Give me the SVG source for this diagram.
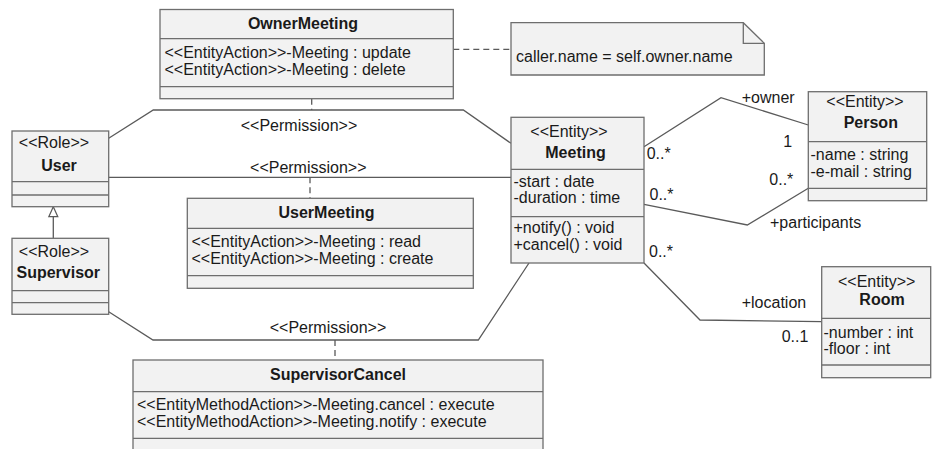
<svg xmlns="http://www.w3.org/2000/svg" width="933" height="449" viewBox="0 0 933 449">
<style>
.bg{fill:#ffffff}
.box{fill:#f2f2f2;stroke:#6e6e6e;stroke-width:1.3}
.div{stroke:#6e6e6e;stroke-width:1.3}
.t{font-family:"Liberation Sans",Arial,sans-serif;font-size:16px;fill:#1a1a1a}
.b{font-weight:bold}
.c{text-anchor:middle}
.ln{fill:none;stroke:#5a5a5a;stroke-width:1.3}
.dash{stroke-dasharray:6,4}
</style>
<defs>
<marker id="gen" viewBox="0 0 12 12" refX="11" refY="6" markerWidth="12" markerHeight="12" markerUnits="userSpaceOnUse" orient="auto">
<path d="M1,1.5 L11,6 L1,10.5 Z" fill="#ffffff" stroke="#5a5a5a" stroke-width="1.2"/>
</marker>
</defs>
<rect class="bg" x="0" y="0" width="933" height="449"/>

<g id="connectors">
<path class="ln" d="M108.7,138.3 L153.3,110 H463.3 L511,143.3"/>
<path class="ln" d="M108.7,177.3 H511"/>
<path class="ln" d="M108.7,311.7 L153,340 H478.3 L529,263"/>
<path class="ln" d="M644,146.7 L721,97.7 L808.3,125"/>
<path class="ln" d="M644,204.3 L747.3,225 L808.3,188.3"/>
<path class="ln" d="M644,263 L700,320 L821.7,321.7"/>
<path class="ln dash" d="M311.7,98.7 V110"/>
<path class="ln dash" d="M310,177.3 V198.3"/>
<path class="ln dash" d="M335,340 V360"/>
<path class="ln dash" d="M453.3,49.3 H511"/>
<path class="ln" d="M53.3,238.3 V206.7" marker-end="url(#gen)"/>
<text class="t c" x="299" y="130.7">&lt;&lt;Permission&gt;&gt;</text>
<text class="t c" x="308.3" y="172.7">&lt;&lt;Permission&gt;&gt;</text>
<text class="t c" x="328" y="333">&lt;&lt;Permission&gt;&gt;</text>
<text class="t" x="741.7" y="103.3">+owner</text>
<text class="t" x="783.3" y="146.7">1</text>
<text class="t" x="646.7" y="159">0..*</text>
<text class="t" x="649.5" y="200">0..*</text>
<text class="t" x="769.3" y="185">0..*</text>
<text class="t" x="770" y="228">+participants</text>
<text class="t" x="649" y="257">0..*</text>
<text class="t" x="741.7" y="308.3">+location</text>
<text class="t" x="781.7" y="341.7">0..1</text>
</g>

<g id="OwnerMeeting">
<rect class="box" x="160" y="9.5" width="293.3" height="89.2"/>
<line class="div" x1="160" y1="38.7" x2="453.3" y2="38.7"/>
<line class="div" x1="160" y1="86.7" x2="453.3" y2="86.7"/>
<text class="t b c" x="303" y="29">OwnerMeeting</text>
<text class="t" x="164.5" y="57.5">&lt;&lt;EntityAction&gt;&gt;-Meeting : update</text>
<text class="t" x="164.5" y="74.5">&lt;&lt;EntityAction&gt;&gt;-Meeting : delete</text>
</g>

<g id="Note">
<path class="box" d="M511,22.7 H743.3 L764.3,43.3 V75 H511 Z"/>
<path class="ln" style="stroke:#6e6e6e" d="M743.3,22.7 V43.3 H764.3"/>
<text class="t" x="516" y="62">caller.name = self.owner.name</text>
</g>

<g id="User">
<rect class="box" x="12" y="131" width="96.7" height="75.7"/>
<line class="div" x1="12" y1="181.7" x2="108.7" y2="181.7"/>
<line class="div" x1="12" y1="195" x2="108.7" y2="195"/>
<text class="t c" x="54" y="148.3">&lt;&lt;Role&gt;&gt;</text>
<text class="t b c" x="59" y="170.7">User</text>
</g>

<g id="Supervisor">
<rect class="box" x="12" y="238.3" width="96.7" height="76"/>
<line class="div" x1="12" y1="290.7" x2="108.7" y2="290.7"/>
<line class="div" x1="12" y1="302.7" x2="108.7" y2="302.7"/>
<text class="t c" x="54" y="256.7">&lt;&lt;Role&gt;&gt;</text>
<text class="t b c" x="58.3" y="278.3">Supervisor</text>
</g>

<g id="UserMeeting">
<rect class="box" x="187.3" y="198.3" width="286" height="90"/>
<line class="div" x1="187.3" y1="228.3" x2="473.3" y2="228.3"/>
<line class="div" x1="187.3" y1="275.7" x2="473.3" y2="275.7"/>
<text class="t b c" x="326.5" y="218.3">UserMeeting</text>
<text class="t" x="191.5" y="247.3">&lt;&lt;EntityAction&gt;&gt;-Meeting : read</text>
<text class="t" x="191.5" y="264">&lt;&lt;EntityAction&gt;&gt;-Meeting : create</text>
</g>

<g id="Meeting">
<rect class="box" x="511" y="117.3" width="133" height="145.7"/>
<line class="div" x1="511" y1="169.3" x2="644" y2="169.3"/>
<line class="div" x1="511" y1="216.7" x2="644" y2="216.7"/>
<text class="t c" x="569" y="136.7">&lt;&lt;Entity&gt;&gt;</text>
<text class="t b c" x="575.5" y="158.3">Meeting</text>
<text class="t" x="513.5" y="186.7">-start : date</text>
<text class="t" x="513.5" y="203.3">-duration : time</text>
<text class="t" x="513.5" y="233.3">+notify() : void</text>
<text class="t" x="513.5" y="250">+cancel() : void</text>
</g>

<g id="Person">
<rect class="box" x="808.3" y="91.7" width="118.4" height="109"/>
<line class="div" x1="808.3" y1="141.7" x2="926.7" y2="141.7"/>
<line class="div" x1="808.3" y1="188.3" x2="926.7" y2="188.3"/>
<text class="t c" x="865" y="106.7">&lt;&lt;Entity&gt;&gt;</text>
<text class="t b c" x="870.8" y="128.3">Person</text>
<text class="t" x="810.5" y="160">-name : string</text>
<text class="t" x="810.5" y="176.7">-e-mail : string</text>
</g>

<g id="Room">
<rect class="box" x="821.7" y="266.7" width="109" height="111"/>
<line class="div" x1="821.7" y1="318.3" x2="930.7" y2="318.3"/>
<line class="div" x1="821.7" y1="365" x2="930.7" y2="365"/>
<text class="t c" x="876.7" y="286.7">&lt;&lt;Entity&gt;&gt;</text>
<text class="t b c" x="882" y="305">Room</text>
<text class="t" x="823.5" y="338.3">-number : int</text>
<text class="t" x="823.5" y="354.3">-floor : int</text>
</g>

<g id="SupervisorCancel">
<rect class="box" x="133" y="360" width="410" height="100"/>
<line class="div" x1="133" y1="391.7" x2="543" y2="391.7"/>
<line class="div" x1="133" y1="438.3" x2="543" y2="438.3"/>
<text class="t b c" x="338" y="380">SupervisorCancel</text>
<text class="t" x="137" y="410">&lt;&lt;EntityMethodAction&gt;&gt;-Meeting.cancel : execute</text>
<text class="t" x="137" y="426.7">&lt;&lt;EntityMethodAction&gt;&gt;-Meeting.notify : execute</text>
</g>
</svg>
